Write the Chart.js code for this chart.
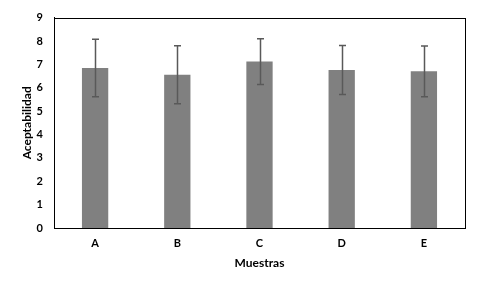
<!DOCTYPE html>
<html>
<head>
<meta charset="utf-8">
<script src="https://cdn.jsdelivr.net/npm/chart.js@4"></script>
<style>
  html, body { margin: 0; padding: 0; background: #fff; }
  #wrap { width: 480px; height: 288px; }
</style>
</head>
<body>
<div id="wrap"><canvas id="chart" width="480" height="288"></canvas></div>
<script>
// Chart data
const categories = ["A", "B", "C", "D", "E"];
const means = [6.84, 6.56, 7.12, 6.76, 6.70];
const errors = [1.23, 1.24, 0.98, 1.05, 1.09];
const yTicks = [0, 1, 2, 3, 4, 5, 6, 7, 8, 9];

const FONT = "Lato, 'Liberation Sans', sans-serif";

// Draws the standard deviation whiskers on top of each bar
const errorBars = {
  id: "errorBars",
  afterDatasetsDraw(chart) {
    const ctx = chart.ctx;
    const meta = chart.getDatasetMeta(0);
    const y = chart.scales.y;
    ctx.save();
    ctx.strokeStyle = "#595959";
    ctx.lineWidth = 1.5;
    meta.data.forEach((bar, i) => {
      const top = y.getPixelForValue(means[i] + errors[i]);
      const bot = y.getPixelForValue(means[i] - errors[i]);
      const x = Math.round(bar.x) + 0.5;
      ctx.beginPath();
      ctx.moveTo(x, top); ctx.lineTo(x, bot);
      ctx.moveTo(x - 3.5, top); ctx.lineTo(x + 3.5, top);
      ctx.moveTo(x - 3.5, bot); ctx.lineTo(x + 3.5, bot);
      ctx.stroke();
    });
    ctx.restore();
  }
};

// Box around the plot area
const frame = {
  id: "frame",
  afterDraw(chart) {
    const a = chart.chartArea;
    const ctx = chart.ctx;
    ctx.save();
    ctx.strokeStyle = "#000";
    ctx.lineWidth = 1;
    ctx.strokeRect(Math.round(a.left) + 0.5, Math.round(a.top) + 0.5,
      Math.round(a.right - a.left), Math.round(a.bottom - a.top));
    ctx.restore();
  }
};

new Chart(document.getElementById("chart"), {
  type: "bar",
  data: {
    labels: categories,
    datasets: [{
      data: means,
      backgroundColor: "#808080",
      borderWidth: 0,
      barPercentage: 0.32,
      categoryPercentage: 1.0
    }]
  },
  options: {
    responsive: false,
    animation: false,
    layout: { padding: { left: 16, right: 15, top: 14, bottom: 14 } },
    plugins: { legend: { display: false }, tooltip: { enabled: false } },
    scales: {
      x: {
        grid: { display: false, drawTicks: false },
        border: { color: "#000" },
        ticks: { color: "#000", font: { family: FONT, size: 11, weight: "bold" }, padding: 9 },
        title: {
          display: true, text: "Muestras", color: "#000",
          font: { family: FONT, size: 12, weight: "bold" }, padding: { top: 4, bottom: 4 }
        },
        afterFit(s) { s.height = 46; }
      },
      y: {
        min: 0, max: 9,
        afterBuildTicks(s) { s.ticks = yTicks.map(v => ({ value: v })); },
        grid: { display: false, drawTicks: false },
        border: { color: "#000" },
        ticks: { color: "#000", font: { family: FONT, size: 11, weight: "bold" }, padding: 11 },
        title: {
          display: true, text: "Aceptabilidad", color: "#000",
          font: { family: FONT, size: 12, weight: "bold" }, padding: { top: 4, bottom: 4 }
        },
        afterFit(s) { s.width = 38; }
      }
    }
  },
  plugins: [errorBars, frame]
});
</script>
</body>
</html>
